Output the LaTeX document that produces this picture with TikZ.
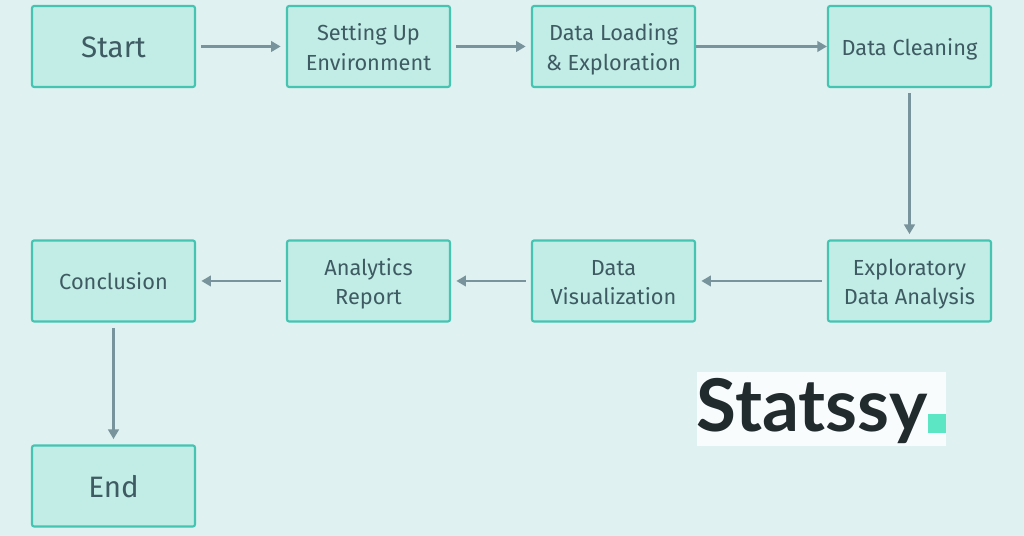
\documentclass[tikz,border=0pt]{standalone}
\usepackage{fontspec}
\setmainfont{Fira Sans}
\newfontfamily\logofont{Lato}
\usetikzlibrary{arrows.meta}
\definecolor{pagebg}{HTML}{DFF1F0}
\definecolor{boxfill}{HTML}{C2EDE6}
\definecolor{boxline}{HTML}{45C4B2}
\definecolor{boxtext}{HTML}{3E5A62}
\definecolor{flowline}{HTML}{78939C}
\definecolor{logotext}{HTML}{212B2E}
\definecolor{logodot}{HTML}{5CE6C4}
\tikzset{
    stage/.style={draw=boxline, fill=boxfill, line width=1.2pt, rounded corners=1.2pt, minimum width=3.26cm, minimum height=1.62cm, align=center, text=boxtext, font=\fontsize{12.4}{17}\selectfont, text height=10.2pt, text depth=0pt},
    twostage/.style={stage, text height=27.2pt},
    bigstage/.style={stage, font=\fontsize{16.8}{20}\selectfont, text height=12.6pt},
    flow/.style={draw=flowline, line width=1.5pt, -{Stealth[flowline, length=5.5pt, width=6pt, inset=0pt]}, shorten <=3pt, shorten >=3pt}
}

\begin{document}
\begin{tikzpicture}
    \useasboundingbox[fill=pagebg] (0,0) rectangle (20.48,10.72);

    \node[bigstage] (A) at (2.27,9.79) {Start};
    \node[twostage] (B) at (7.37,9.79) {Setting Up\\Environment};
    \node[twostage] (C) at (12.27,9.79) {Data Loading\\\& Exploration};
    \node[stage] (D) at (18.19,9.79) {Data Cleaning};

    \node[twostage] (E) at (18.19,5.10) {Exploratory\\Data Analysis};
    \node[twostage] (F) at (12.27,5.10) {Data\\Visualization};
    \node[twostage] (G) at (7.37,5.10) {Analytics\\Report};
    \node[stage] (H) at (2.27,5.10) {Conclusion};
    \node[bigstage] (I) at (2.27,1.00) {End};

    \draw[flow] (A) -- (B);
    \draw[flow] (B) -- (C);
    \draw[flow, shorten <=0pt, shorten >=0pt] (C) -- (D);
    \draw[flow] (D) -- (E);
    \draw[flow] (E) -- (F);
    \draw[flow] (F) -- (G);
    \draw[flow] (G) -- (H);
    \draw[flow] (H) -- (I);

    \node[fill=white!80!pagebg, minimum width=4.98cm, minimum height=1.48cm, inner sep=0pt] (logo) at (16.43,2.54) {};
    \node[anchor=base west, inner sep=0pt, text=logotext, font=\logofont\bfseries\fontsize{41.4}{42}\selectfont] (name) at (13.93,2.08) {Statssy};
    \node[fill=logodot, minimum width=0.37cm, minimum height=0.38cm, inner sep=0pt] (dot) at (18.74,2.25) {};
\end{tikzpicture}
\end{document}
